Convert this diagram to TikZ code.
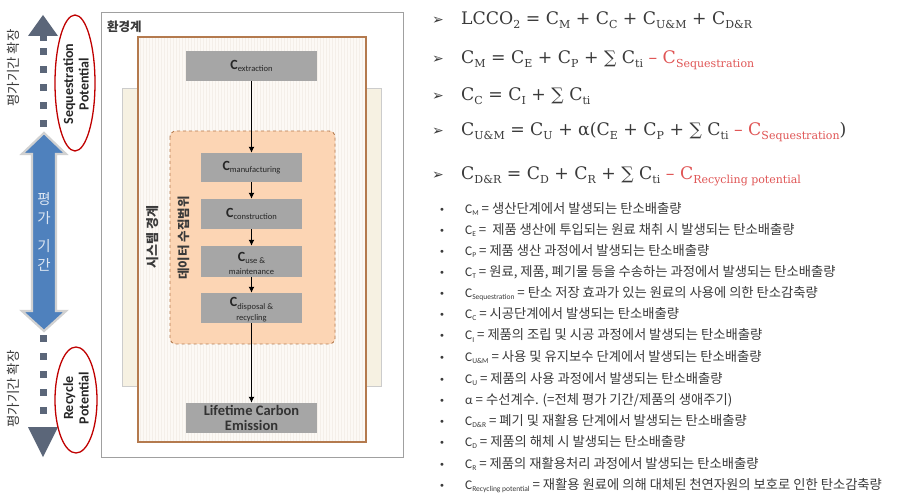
\documentclass[tikz,border=0pt]{standalone}
\usepackage{fontspec}
\usetikzlibrary{arrows.meta}
\setmainfont{DejaVu Serif}
\newfontfamily\kr{Noto Sans CJK KR}
\newfontfamily\carl{Carlito}
\newfontfamily\djs{DejaVu Sans}
\definecolor{boxgray}{HTML}{A6A6A6}
\definecolor{peach}{HTML}{FCD5B4}
\definecolor{brownline}{HTML}{B47A4E}
\definecolor{cream}{HTML}{F6F1E2}
\definecolor{innerfill}{HTML}{FCF9F5}
\definecolor{stripe}{HTML}{F4EFE9}
\definecolor{blueA}{HTML}{4F81BD}
\definecolor{blueT}{HTML}{DCE6F2}
\definecolor{slate}{HTML}{5B6679}
\definecolor{redE}{HTML}{C00000}
\definecolor{redT}{HTML}{E05555}
\definecolor{txt}{HTML}{3A3A3A}
\definecolor{envline}{HTML}{A0A0A0}
% formula subscript
\newcommand\fs[1]{\raisebox{-3.5pt}{\fontsize{11}{11}\selectfont #1}}
% list subscript
\newcommand\ls[1]{{\carl C\raisebox{-2pt}{\fontsize{7.5}{7.5}\selectfont #1}}}
% box subscript
\newcommand\bs[1]{{\fontsize{14}{14}\selectfont\bfseries C}\raisebox{-2.5pt}{\fontsize{8.5}{9}\selectfont #1}}
\begin{document}
\begin{tikzpicture}[x=1pt,y=-1pt,
  gbox/.style={fill=boxgray, inner sep=0pt, font=\carl, text=black!85, align=center},
  flow/.style={-{Latex[length=6pt,width=6pt]}, line width=1.9pt, black},
  formula/.style={anchor=base west, inner sep=0pt, font=\fontsize{17.3}{20}\selectfont, text=txt},
  fbul/.style={anchor=base west, inner sep=0pt, font=\djs\fontsize{14}{16}\selectfont, text=txt},
  litem/.style={anchor=base west, inner sep=0pt, font=\kr\fontsize{13.3}{14}\selectfont, text=txt},
  lbul/.style={anchor=base, inner sep=0pt, font=\fontsize{10}{12}\selectfont, text=txt},
  vlab/.style={rotate=90, inner sep=0pt, font=\kr\fontsize{13.5}{15}\selectfont, text=txt},
  pot/.style={rotate=90, inner sep=0pt, align=center, font=\carl\bfseries\fontsize{14}{15.5}\selectfont, text=black!85},
  redell/.style={draw=redE, line width=1.3pt}
]
\useasboundingbox (0,0) rectangle (897,494);
\fill[white] (0,0) rectangle (897,494);

% ---------- environment box ----------
\draw[envline, line width=1pt] (101,13) rectangle (403,457);
\node[anchor=west, inner sep=0pt, font=\kr\bfseries\fontsize{12.5}{14}\selectfont, text=txt] (envlab) at (107,27) {환경계};

% side cream rectangle
\draw[draw=black!20, fill=cream, line width=0.6pt] (122,88) rectangle (381,386);
% system boundary
\fill[innerfill] (138,37) rectangle (366,442);
\foreach \xx in {140,143,...,365} {\draw[stripe, line width=0.5pt] (\xx,38) -- (\xx,441);}
\draw[brownline, line width=1.2pt] (138,37) rectangle (366,442);
% data collection range
\draw[brownline, dashed, fill=peach, rounded corners=6pt, line width=0.9pt] (170,131) rectangle (335,344);

\node[vlab, font=\kr\bfseries\fontsize{13}{15}\selectfont] (sysb) at (153,237) {시스템 경계};
\node[vlab, font=\kr\bfseries\fontsize{12.5}{15}\selectfont] (datar) at (184,238) {데이터 수집범위};

% ---------- flow boxes ----------
\node[gbox, minimum width=131pt, minimum height=30pt] (ext) at (251.5,66) {\bs{extraction}};
\node[gbox, minimum width=101pt, minimum height=29pt] (man) at (251.5,167.5) {\bs{manufacturing}};
\node[gbox, minimum width=101pt, minimum height=30pt] (con) at (251.5,214) {\bs{construction}};
\node[gbox, minimum width=101pt, minimum height=31pt, text height=0pt] (use) at (251.5,261.5) {};
\node[inner sep=0pt, font=\carl, text=black!85] (uset) at (251.5,258) {\bs{use \&}};
\node[inner sep=0pt, font=\carl\fontsize{8.5}{9}\selectfont, text=black!85] (usem) at (251.5,272) {maintenance};
\node[gbox, minimum width=101pt, minimum height=30pt] (dis) at (251.5,308) {};
\node[inner sep=0pt, font=\carl, text=black!85] (dist) at (251.5,304) {\bs{disposal \&}};
\node[inner sep=0pt, font=\carl\fontsize{8.5}{9}\selectfont, text=black!85] (disr) at (251.5,318) {recycling};
\node[gbox, minimum width=131pt, minimum height=30pt, font=\carl\bfseries\fontsize{14.5}{15}\selectfont, text=black!80] (life) at (251.5,418) {Lifetime Carbon\\Emission};

\draw[flow] (ext) -- (man);
\draw[flow] (man) -- (con);
\draw[flow] (con) -- (use);
\draw[flow] (use) -- (dis);
\draw[flow] (dis) -- (life);

% ---------- left arrows ----------
% blue double arrow
\path[draw=black!18, line width=2.2pt, fill=blueA, line join=miter]
  (44,133) -- (66,154) -- (56,154) -- (56,311) -- (66,311) -- (44,331)
  -- (22,311) -- (32,311) -- (32,154) -- (22,154) -- cycle;
\node[inner sep=0pt, align=center, font=\kr\fontsize{14.5}{19}\selectfont, text=blueT] (period) at (44,232) {평\\가\\[9pt]기\\간};

% top gray dashed arrow
\fill[slate] (43,15) -- (58,36) -- (28,36) -- cycle;
\fill[slate] (39.5,36) rectangle (46.5,41);
\foreach \yy in {48,66,84,102,120} {\fill[slate] (39.5,\yy) rectangle (46.5,\yy+7);}
% bottom gray dashed arrow
\fill[slate] (43,457) -- (58,427) -- (28,427) -- cycle;
\foreach \yy in {335,353,371,389,407} {\fill[slate] (39.5,\yy) rectangle (46.5,\yy+7);}

\node[vlab] (extA) at (13,68) {평가기간 확장};
\node[vlab] (extB) at (13,389) {평가기간 확장};

\draw[redell] (75,83) ellipse [x radius=20, y radius=68];
\node[pot] (seq) at (76,84) {Sequestration\\Potential};
\draw[redell] (76,400) ellipse [x radius=21, y radius=53];
\node[pot] (rec) at (76,398) {Recycle\\Potential};

% ---------- formulas ----------
\foreach \yy in {25,64,101,136,180} {\node[fbul] at (432,\yy) {➢};}
\node[formula] (f1) at (461,25) {LCCO\fs{2} = C\fs{M} + C\fs{C} + C\fs{U\&M} + C\fs{D\&R}};
\node[formula] (f2) at (461,64) {C\fs{M} = C\fs{E} + C\fs{P} + ∑ C\fs{ti} \textcolor{redT}{– C\fs{Sequestration}}};
\node[formula] (f3) at (461,101) {C\fs{C} = C\fs{I} + ∑ C\fs{ti}};
\node[formula] (f4) at (461,136) {C\fs{U\&M} = C\fs{U} + α(C\fs{E} + C\fs{P} + ∑ C\fs{ti} \textcolor{redT}{– C\fs{Sequestration}})};
\node[formula] (f5) at (461,180) {C\fs{D\&R} = C\fs{D} + C\fs{R} + ∑ C\fs{ti} \textcolor{redT}{– C\fs{Recycling potential}}};

% ---------- definitions list ----------
\foreach \yy in {214,235,256,277,298,319,340,361,383,404,425,446,468,489} {\node[lbul] at (442,\yy) {•};}
\node[litem] (d1) at (465,214) {\ls{M} = 생산단계에서 발생되는 탄소배출량};
\node[litem] (d2) at (465,235) {\ls{E} =\ \ 제품 생산에 투입되는 원료 채취 시 발생되는 탄소배출량};
\node[litem] (d3) at (465,256) {\ls{P} = 제품 생산 과정에서 발생되는 탄소배출량};
\node[litem] (d4) at (465,277) {\ls{T} = 원료, 제품, 폐기물 등을 수송하는 과정에서 발생되는 탄소배출량};
\node[litem] (d5) at (465,298) {\ls{Sequestration} = 탄소 저장 효과가 있는 원료의 사용에 의한 탄소감축량};
\node[litem] (d6) at (465,319) {\ls{C} = 시공단계에서 발생되는 탄소배출량};
\node[litem] (d7) at (465,340) {\ls{I} = 제품의 조립 및 시공 과정에서 발생되는 탄소배출량};
\node[litem] (d8) at (465,361) {\ls{U\&M} = 사용 및 유지보수 단계에서 발생되는 탄소배출량};
\node[litem] (d9) at (465,383) {\ls{U} = 제품의 사용 과정에서 발생되는 탄소배출량};
\node[litem] (d10) at (465,404) {{\carl α} = 수선계수. (=전체 평가 기간/제품의 생애주기)};
\node[litem] (d11) at (465,425) {\ls{D\&R} = 폐기 및 재활용 단계에서 발생되는 탄소배출량};
\node[litem] (d12) at (465,446) {\ls{D} = 제품의 해체 시 발생되는 탄소배출량};
\node[litem] (d13) at (465,468) {\ls{R} = 제품의 재활용처리 과정에서 발생되는 탄소배출량};
\node[litem] (d14) at (465,489) {\ls{Recycling potential} = 재활용 원료에 의해 대체된 천연자원의 보호로 인한 탄소감축량};
\end{tikzpicture}
\end{document}
